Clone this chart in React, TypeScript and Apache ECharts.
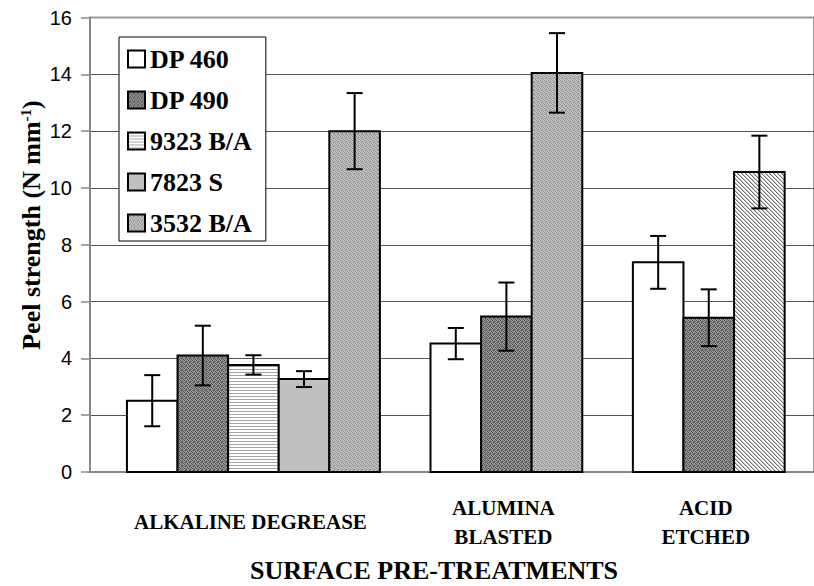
import { useEffect, useRef } from 'react';
import * as echarts from 'echarts';

// Surface pre-treatments (x groups) and adhesives (series)
const treatments = ['ALKALINE DEGREASE', 'ALUMINA\nBLASTED', 'ACID\nETCHED'];
const adhesives = ['DP 460', 'DP 490', '9323 B/A', '7823 S', '3532 B/A'];

// Mean peel strength per treatment (null = adhesive not tested)
const dp460Mean = [2.51, 4.52, 7.38];
const dp490Mean = [4.1, 5.47, 5.43];
const b9323Mean = [3.77, null, null];
const s7823Mean = [3.27, null, null];
const b3532Mean = [12.0, 14.05, 10.56];

// Error bar half-widths
const dp460Err = [0.9, 0.55, 0.93];
const dp490Err = [1.05, 1.2, 1.0];
const b9323Err = [0.34, null, null];
const s7823Err = [0.28, null, null];
const b3532Err = [1.34, 1.4, 1.28];

// Value axis ticks
const yMin = 0;
const yMax = 16;
const yStep = 2;

const means = [dp460Mean, dp490Mean, b9323Mean, s7823Mean, b3532Mean];
const errs = [dp460Err, dp490Err, b9323Err, s7823Err, b3532Err];

const SERIF = "'Liberation Serif', 'Times New Roman', serif";
const SANS = "'Liberation Sans', Arial, sans-serif";

// Small repeating bitmap tiles for the monochrome fills
function tile(w: number, h: number, pix: (x: number, y: number) => string) {
  const c = document.createElement('canvas');
  c.width = w;
  c.height = h;
  const ctx = c.getContext('2d')!;
  for (let y = 0; y < h; y++) {
    for (let x = 0; x < w; x++) {
      ctx.fillStyle = pix(x, y);
      ctx.fillRect(x, y, 1, 1);
    }
  }
  return { image: c.toDataURL(), repeat: 'repeat', imageWidth: w, imageHeight: h } as any;
}

// ordered-dither style dots on a 4x4 cell
const DOTS = [
  [1, 0, 0, 0],
  [0, 0, 1, 0],
  [0, 1, 0, 0],
  [0, 0, 0, 1],
];

function makeFills() {
  const darkStipple = tile(4, 4, (x, y) => (DOTS[y][x] ? '#4a4a4a' : (x + y) % 2 ? '#9a9a9a' : '#7c7c7c'));
  const lightStipple = tile(4, 4, (x, y) => (DOTS[y][x] ? '#8a8a8a' : (x + y) % 2 ? '#c6c6c6' : '#b2b2b2'));
  const hLines = tile(4, 3, (_x, y) => (y === 0 ? '#a4a4a4' : '#ffffff'));
  const diag = tile(4, 4, (x, y) => {
    const d = (((x - y) % 4) + 4) % 4;
    return d === 0 ? '#707070' : d === 1 ? '#c4c4c4' : '#ffffff';
  });
  return {
    series: ['#ffffff', darkStipple, hLines, '#c0c0c0', lightStipple] as any[],
    // individually formatted point: acid etched 3532 B/A
    override: { '2|4': diag } as Record<string, any>,
  };
}

export default function App() {
  const ref = useRef<HTMLDivElement>(null);

  useEffect(() => {
    if (!ref.current) return;
    const chart = echarts.init(ref.current, null, { renderer: 'svg' });
    const fills = makeFills();

    // Bars are placed on consecutive slots, one empty slot between treatments
    const barsBySeries: number[][][] = adhesives.map(() => []);
    const groupCenters: number[][] = [];
    let slot = 0;
    treatments.forEach((_t, g) => {
      const start = slot;
      adhesives.forEach((_a, s) => {
        const v = means[s][g];
        if (v == null) return;
        barsBySeries[s].push([slot, v, errs[s][g] as number, g]);
        slot++;
      });
      groupCenters.push([(start + slot - 1) / 2, 0, g]);
      slot += 1;
    });

    const barSeries = adhesives.map((name, s) => ({
      name,
      type: 'custom',
      data: barsBySeries[s],
      encode: { x: 0, y: 1 },
      itemStyle: { color: fills.series[s], borderColor: '#000', borderWidth: 2 },
      renderItem: (_params: any, api: any) => {
        const x = api.value(0);
        const v = api.value(1);
        const e = api.value(2);
        const g = api.value(3);
        const fill = fills.override[`${g}|${s}`] || fills.series[s];
        const tl = api.coord([x - 0.5, v]);
        const br = api.coord([x + 0.5, 0]);
        const hi = api.coord([x, v + e]);
        const lo = api.coord([x, v - e]);
        const cap = 8;
        const ln = { stroke: '#000', lineWidth: 2 };
        return {
          type: 'group',
          children: [
            {
              type: 'rect',
              shape: { x: tl[0], y: tl[1], width: br[0] - tl[0], height: br[1] - tl[1] },
              style: { fill, stroke: '#000', lineWidth: 2 },
            },
            { type: 'line', shape: { x1: hi[0], y1: hi[1], x2: lo[0], y2: lo[1] }, style: ln },
            { type: 'line', shape: { x1: hi[0] - cap, y1: hi[1], x2: hi[0] + cap, y2: hi[1] }, style: ln },
            { type: 'line', shape: { x1: lo[0] - cap, y1: lo[1], x2: lo[0] + cap, y2: lo[1] }, style: ln },
          ],
        };
      },
    }));

    const labelSeries = {
      name: 'treatments',
      type: 'custom',
      data: groupCenters,
      encode: { x: 0, y: 1 },
      silent: true,
      renderItem: (_params: any, api: any) => {
        const c = api.coord([api.value(0), 0]);
        return {
          type: 'text',
          x: c[0] - 3,
          y: c[1] + 50,
          style: {
            text: treatments[api.value(2)],
            align: 'center',
            verticalAlign: 'middle',
            fontSize: 21,
            lineHeight: 29,
            fontWeight: 'bold',
            fontFamily: SERIF,
            fill: '#000',
          },
        };
      },
    };

    chart.setOption({
      animation: false,
      backgroundColor: '#ffffff',
      grid: {
        left: 90,
        top: 17.5,
        right: -3,
        bottom: 114,
        show: true,
        borderColor: '#999',
        borderWidth: 2,
        backgroundColor: 'transparent',
      },
      xAxis: {
        type: 'value',
        min: -1.23,
        max: 13.08,
        axisLine: { show: true, onZero: false, lineStyle: { color: '#888', width: 2 } },
        axisTick: { show: false },
        axisLabel: { show: false },
        splitLine: { show: false },
      },
      yAxis: {
        type: 'value',
        min: yMin,
        max: yMax,
        interval: yStep,
        axisLine: { show: true, onZero: false, lineStyle: { color: '#888', width: 2 } },
        axisTick: { show: true, length: 9, lineStyle: { color: '#888', width: 1.5 } },
        axisLabel: { fontSize: 20, fontFamily: SANS, color: '#000', margin: 18 },
        splitLine: { show: true, showMinLine: false, showMaxLine: false, lineStyle: { color: '#555', width: 1 } },
      },
      legend: {
        data: adhesives,
        orient: 'vertical',
        left: 119,
        top: 37,
        icon: 'rect',
        itemWidth: 17,
        itemHeight: 17,
        itemGap: 15,
        padding: [9, 14, 5, 8],
        backgroundColor: '#fff',
        borderColor: '#000',
        borderWidth: 1,
        selectedMode: false,
        itemStyle: { borderColor: '#000', borderWidth: 2 },
        textStyle: { fontSize: 26, fontWeight: 'bold', fontFamily: SERIF, color: '#000' },
      },
      graphic: [
        {
          type: 'text',
          x: 31,
          y: 225,
          rotation: Math.PI / 2,
          style: {
            text: '{a|Peel strength (N mm}{s|-1}{a|)}',
            align: 'center',
            verticalAlign: 'middle',
            rich: {
              a: { fontSize: 26, fontWeight: 'bold', fontFamily: SERIF, fill: '#000' } as any,
              s: { fontSize: 15, fontWeight: 'bold', fontFamily: SERIF, fill: '#000', verticalAlign: 'top' } as any,
            },
          },
        },
        {
          type: 'text',
          x: 434,
          y: 570,
          style: {
            text: 'SURFACE PRE-TREATMENTS',
            align: 'center',
            verticalAlign: 'middle',
            fontSize: 26,
            fontWeight: 'bold',
            fontFamily: SERIF,
            fill: '#000',
          },
        },
      ],
      series: [...barSeries, labelSeries],
    } as any);

    return () => chart.dispose();
  }, []);

  return (
    <div
      ref={ref}
      style={{ position: 'absolute', left: 0, top: 0, width: 814, height: 586, background: '#fff' }}
    />
  );
}
